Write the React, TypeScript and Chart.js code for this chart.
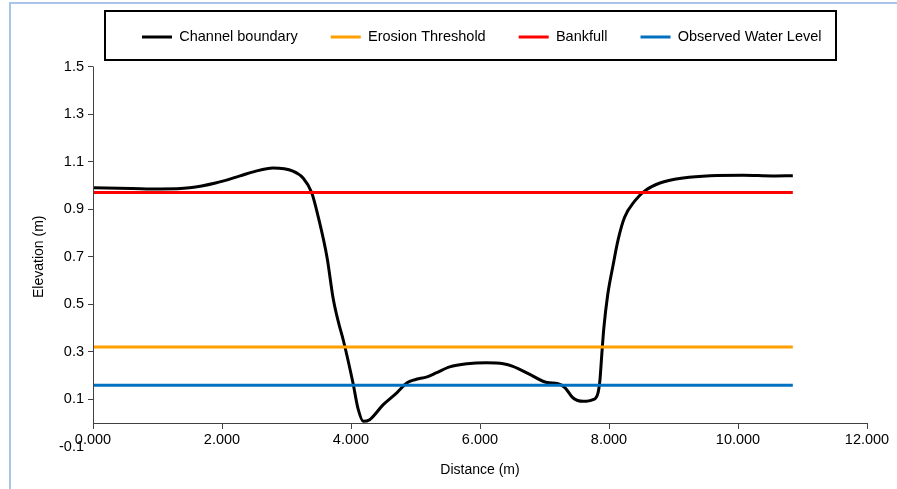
import React, { useEffect, useRef } from 'react';
import { Chart, registerables } from 'chart.js';

Chart.register(...registerables);

// ---- Data ----
const distance = [
  0, 0.6, 1.04, 1.5, 1.9, 2.28, 2.5, 2.79, 3.1, 3.26, 3.39, 3.49, 3.63, 3.72, 3.8, 3.88,
  4.03, 4.11, 4.19, 4.29, 4.5, 4.71, 4.87, 4.99, 5.18, 5.33, 5.53, 5.8, 6.1, 6.36, 6.51,
  6.78, 7.04, 7.21, 7.32, 7.44, 7.6, 7.75, 7.83, 7.86, 7.89, 7.92, 7.98, 8.06, 8.14, 8.24,
  8.4, 8.56, 8.79, 9.15, 9.57, 10.08, 10.54, 10.85,
];
const elevation = [
  0.99, 0.987, 0.985, 0.99, 1.01, 1.04, 1.058, 1.073, 1.06, 1.03, 0.97, 0.87, 0.695, 0.53, 0.43, 0.35,
  0.17, 0.06, 0.008, 0.015, 0.078, 0.128, 0.17, 0.183, 0.195, 0.213, 0.237, 0.25, 0.254, 0.25, 0.239,
  0.204, 0.171, 0.166, 0.149, 0.107, 0.092, 0.099, 0.128, 0.183, 0.296, 0.4, 0.54, 0.66, 0.77, 0.865,
  0.935, 0.978, 1.01, 1.031, 1.041, 1.043, 1.04, 1.041,
];
const levelExtent = [0, 10.85];
const erosionThreshold = 0.32;
const bankfull = 0.97;
const observedWaterLevel = 0.16;

const seriesNames = ['Channel boundary', 'Erosion Threshold', 'Bankfull', 'Observed Water Level'];
const seriesColors = ['#000000', '#FFA000', '#FF0000', '#0070C0'];

const xTicks = [0, 2, 4, 6, 8, 10, 12];
const yTicks = [-0.1, 0.1, 0.3, 0.5, 0.7, 0.9, 1.1, 1.3, 1.5];

const FONT = "'Liberation Sans', Arial, sans-serif";
const LEGEND_START = 142;
const LEGEND_MID = 37;
const LEGEND_FONT = 14.5;

const legendFramePlugin = {
  id: 'legendFrame',
  beforeDraw(chart: any) {
    const lg = chart.legend;
    if (!lg || !lg.lineWidths) return;
    const pad = lg.options.labels.padding;
    const lw = lg.lineWidths[0];
    lg.left = 0;
    lg.right = 2 * LEGEND_START - pad + lw;
    lg.top = LEGEND_MID - pad - LEGEND_FONT / 2;
  },
  afterDraw(chart: any) {
    const ctx = chart.ctx;
    ctx.save();
    ctx.strokeStyle = '#000';
    ctx.lineWidth = 2;
    ctx.strokeRect(105, 11, 731, 49);
    const ys = chart.scales.y;
    const x = Math.round(chart.chartArea.left) + 0.5;
    ctx.lineWidth = 1;
    ctx.strokeStyle = '#404040';
    ctx.beginPath();
    ctx.moveTo(x, ys.getPixelForValue(1.5));
    ctx.lineTo(x, ys.getPixelForValue(0));
    ctx.stroke();
    ctx.restore();
  },
};

export default function App() {
  const canvasRef = useRef<HTMLCanvasElement | null>(null);

  useEffect(() => {
    const canvas = canvasRef.current;
    if (!canvas) return;
    const boundary = distance.map((d, i) => ({ x: d, y: elevation[i] }));
    const level = (v: number) => levelExtent.map((d) => ({ x: d, y: v }));
    const values = [boundary, level(erosionThreshold), level(bankfull), level(observedWaterLevel)];

    const chart = new Chart(canvas, {
      type: 'line',
      data: {
        datasets: values.map((data, i) => ({
          label: seriesNames[i],
          data,
          borderColor: seriesColors[i],
          backgroundColor: seriesColors[i],
          borderWidth: 3,
          pointRadius: 0,
          pointHoverRadius: 0,
          pointStyle: 'line',
          fill: false,
          cubicInterpolationMode: i === 0 ? 'monotone' : 'default',
          order: i === 0 ? 10 : i,
        })),
      },
      options: {
        animation: false,
        responsive: false,
        maintainAspectRatio: false,
        layout: { padding: { left: 10, right: 30, top: 9, bottom: 42 } },
        plugins: {
          legend: {
            position: 'top',
            maxHeight: 66,
            labels: {
              usePointStyle: true,
              pointStyleWidth: 30,
              boxHeight: 3,
              padding: 33,
              color: '#000',
              font: { family: FONT, size: LEGEND_FONT },
              sort: (a: any, b: any) => a.datasetIndex - b.datasetIndex,
            },
          },
          tooltip: { enabled: false },
        },
        scales: {
          x: {
            type: 'linear',
            position: { y: 0 },
            min: 0,
            max: 12,
            afterBuildTicks: (s: any) => {
              s.ticks = xTicks.map((v) => ({ value: v }));
            },
            ticks: {
              callback: (v: any) => Number(v).toFixed(3),
              color: '#000',
              font: { family: FONT, size: 14.5 },
              padding: 3,
              maxRotation: 0,
              autoSkip: false,
            },
            grid: { drawOnChartArea: false, drawTicks: true, tickLength: 5, color: '#404040' },
            border: { display: true, color: '#404040', width: 1 },
            title: {
              display: true,
              text: 'Distance (m)',
              color: '#000',
              font: { family: FONT, size: 14 },
              padding: { top: 10, bottom: 4 },
            },
          },
          y: {
            type: 'linear',
            min: -0.1,
            max: 1.5,
            afterBuildTicks: (s: any) => {
              s.ticks = yTicks.map((v) => ({ value: v }));
            },
            afterFit: (s: any) => {
              s.width = 83;
            },
            ticks: {
              callback: (v: any) => Number(v).toFixed(1),
              color: '#000',
              font: { family: FONT, size: 14.5 },
              padding: 4,
              autoSkip: false,
            },
            grid: {
              drawOnChartArea: false,
              drawTicks: true,
              tickLength: 5,
              color: (c: any) => (c.tick && c.tick.value < 0 ? 'rgba(0,0,0,0)' : '#404040'),
            },
            border: { display: false },
            title: {
              display: true,
              text: 'Elevation (m)',
              color: '#000',
              font: { family: FONT, size: 14 },
              padding: { top: 21, bottom: 0 },
            },
          },
        },
      } as any,
      plugins: [legendFramePlugin],
    });
    return () => chart.destroy();
  }, []);

  return (
    <div style={{ position: 'fixed', left: 0, top: 0, width: 897, height: 489, background: '#fff' }}>
      <div
        style={{
          position: 'absolute',
          left: 9,
          top: 2,
          right: 0,
          bottom: 0,
          borderLeft: '2px solid #aac3e8',
          borderTop: '2px solid #aac3e8',
        }}
      />
      <canvas
        ref={canvasRef}
        width={897}
        height={489}
        style={{ position: 'absolute', left: 0, top: 0, width: 897, height: 489 }}
      />
    </div>
  );
}
